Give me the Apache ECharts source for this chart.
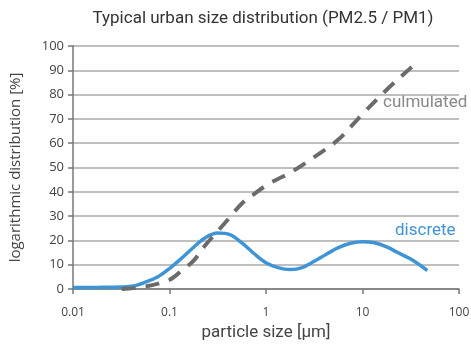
<!DOCTYPE html>
<html>
<head>
<meta charset="utf-8">
<script src="https://cdn.jsdelivr.net/npm/echarts@6/dist/echarts.min.js"></script>
<style>
  html, body { margin: 0; padding: 0; background: #fff; }
  #chart { width: 471px; height: 347px; }
</style>
</head>
<body>
<div id="chart"></div>
<script>
// Particle diameters [µm] and values of the two size distributions
const discreteSize = [0.01, 0.0178, 0.0316, 0.0422, 0.0562, 0.075, 0.1, 0.133, 0.178, 0.237, 0.316, 0.422, 0.562, 0.75,
  1, 1.33, 1.78, 2.37, 3.16, 4.22, 5.62, 7.5, 10, 13.3, 17.8, 23.7, 31.6, 47];
const discreteValue = [0.6, 0.65, 0.8, 1.2, 2.8, 4.9, 8.4, 12.6, 17.2, 21.2, 23, 22.4, 19, 14.6,
  10.8, 8.8, 8.0, 8.8, 11.4, 14.3, 17, 18.8, 19.4, 19, 17.3, 14.8, 12.3, 7.6];

const cumulatedSize = [0.032, 0.056, 0.1, 0.133, 0.178, 0.237, 0.316, 0.422, 0.562, 0.75, 1, 1.33, 1.78, 3.16, 5.62, 10, 17.8, 31.6, 36];
const cumulatedValue = [0, 1.0, 3.8, 7.5, 11.7, 18.2, 23.8, 29.5, 35.2, 39, 42.6, 45.3, 47.8, 54.3, 61.5, 72, 82, 91, 93];

const titleText = 'Typical urban size distribution (PM2.5 / PM1)';
const xName = 'particle size [µm]';
const yName = 'logarithmic distribution [%]';

const pairs = (xs, ys) => xs.map((x, i) => [x, ys[i]]);

const chart = echarts.init(document.getElementById('chart'));
const narrow = '"Roboto", sans-serif';
const sans = '"Open Sans", "Noto Sans", sans-serif';

chart.setOption({
  animation: false,
  title: {
    text: titleText,
    left: 258, top: 5, textAlign: 'center',
    textStyle: { fontFamily: narrow, fontSize: 17, fontWeight: 'normal', color: '#333' }
  },
  grid: { left: 73, right: 12, top: 46, bottom: 58, outerBoundsMode: 'none', containLabel: false },
  xAxis: {
    type: 'log', logBase: 10, min: 0.01, max: 100,
    name: xName, nameLocation: 'middle', nameGap: 35,
    nameTextStyle: { fontFamily: narrow, fontSize: 17, color: '#444' },
    axisLine: { lineStyle: { color: '#777', width: 1.5 } },
    axisTick: { show: true, length: 5, lineStyle: { color: '#777', width: 1.5 } },
    minorTick: { show: false },
    splitLine: { show: false },
    axisLabel: {
      fontFamily: sans, fontSize: 12, color: '#444', margin: 18,
      formatter: v => String(Number(v.toPrecision(3)))
    }
  },
  yAxis: {
    type: 'value', min: 0, max: 100, interval: 10,
    name: yName, nameLocation: 'middle', nameGap: 50,
    nameTextStyle: { fontFamily: sans, fontSize: 15, color: '#444' },
    axisLine: { show: true, lineStyle: { color: '#777', width: 1.5 } },
    axisTick: { show: true, length: 5, lineStyle: { color: '#777', width: 1.5 } },
    splitLine: { lineStyle: { color: '#aaa', width: 1.5 } },
    axisLabel: { fontFamily: sans, fontSize: 13, color: '#444', margin: 9 }
  },
  series: [
    {
      name: 'culmulated', type: 'line', smooth: 0.35, showSymbol: false,
      data: pairs(cumulatedSize, cumulatedValue),
      lineStyle: { color: '#6b6b6b', width: 4, type: [14, 10] },
      z: 3
    },
    {
      name: 'discrete', type: 'line', smooth: 0.35, showSymbol: false,
      data: pairs(discreteSize, discreteValue),
      lineStyle: { color: '#3f94d6', width: 3.5 },
      z: 2
    }
  ],
  graphic: [
    {
      type: 'text', left: 383, top: 94,
      style: { text: 'culmulated', fontFamily: narrow, fontSize: 17, fill: '#888' }
    },
    {
      type: 'text', left: 395, top: 222,
      style: { text: 'discrete', fontFamily: narrow, fontSize: 17, fill: '#3f94d6' }
    }
  ]
});
</script>
</body>
</html>
